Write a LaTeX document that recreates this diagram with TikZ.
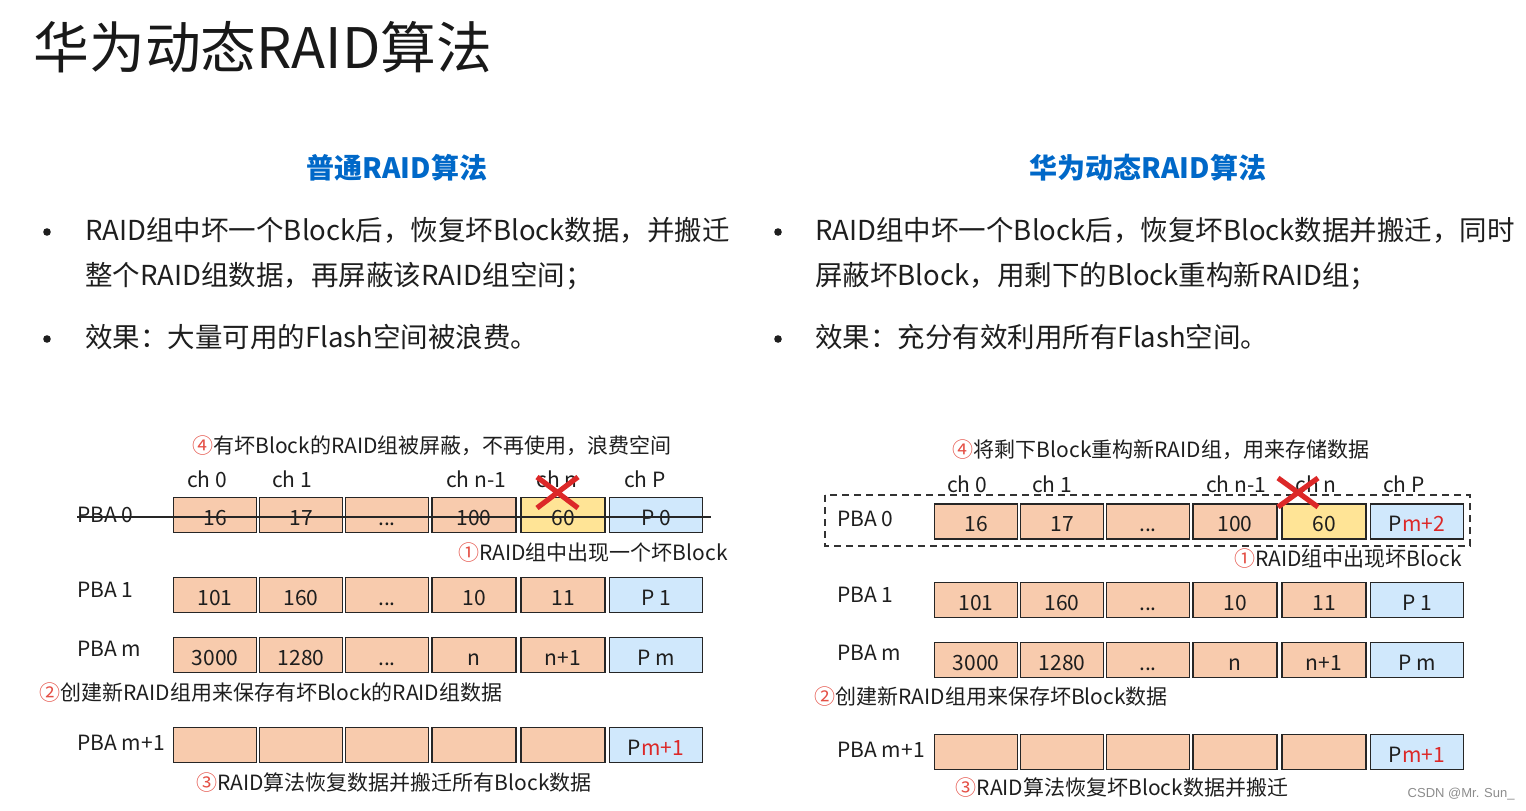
\documentclass[tikz,border=0pt]{standalone}
\usepackage{fontspec}
\setmainfont{Noto Sans CJK SC}
\newfontfamily\wmfont{Liberation Sans}
\usetikzlibrary{calc}
\definecolor{orangefill}{RGB}{248,203,173}
\definecolor{yellowfill}{RGB}{255,228,150}
\definecolor{bluefill}{RGB}{208,232,252}
\definecolor{titleblue}{RGB}{0,104,200}
\definecolor{pred}{RGB}{220,40,40}
\definecolor{circred}{RGB}{228,80,70}
\definecolor{txt}{RGB}{30,30,30}
\newcommand\cn[1]{\textcolor{circred}{#1}}
\newcommand\dotsx{...}
\newcommand\mkrow[4]{%
  \foreach \txt/\sty [count=\i] in {#4} {
    \pgfmathsetmacro\cx{{215,301,387,474,563,656}[\i-1]+#2}
    \pgfmathsetmacro\cw{{41.5,41.5,41.5,42,42,46.5}[\i-1]}
    \node[\sty, minimum width=\cw pt] (#1-\i) at (\cx,#3) {\txt};
  }}
\begin{document}
\begin{tikzpicture}[x=0.5pt,y=-0.5pt,
  cell/.style={draw=black!85, line width=0.8pt, minimum height=17.5pt, inner sep=0pt,
    text height=10.2pt, text depth=0pt, font=\fontsize{10.5}{12}\selectfont, text=txt},
  blk/.style={cell, fill=orangefill},
  bad/.style={cell, fill=yellowfill},
  par/.style={cell, fill=bluefill},
  lbl/.style={font=\fontsize{10.5}{12}\selectfont, text=txt, inner sep=0pt},
  note/.style={font=\fontsize{10.5}{12}\selectfont, text=txt, inner sep=0pt},
  body/.style={font=\fontsize{13.75}{16}\selectfont, text=txt, inner sep=0pt, anchor=west},
  bul/.style={circle, fill=txt, minimum size=3.8pt, inner sep=0pt},
  sub/.style={font=\fontsize{14}{16}\selectfont\bfseries, text=titleblue, inner sep=0pt},
  xmark/.style={draw=pred, line width=2.6pt},
  strike/.style={draw=black!85, line width=0.7pt},
  grp/.style={draw=black!80, line width=0.8pt, dash pattern=on 3.5pt off 2.5pt},
]
\useasboundingbox (0,0) rectangle (1526,810);

% title and headings
\node[anchor=west, inner sep=0pt, font=\fontsize{27.9}{30}\selectfont, text=black!90] (title) at (33,47) {华为动态RAID算法};
\node[sub] (subL) at (397,168) {普通RAID算法};
\node[sub] (subR) at (1148,168) {华为动态RAID算法};

% left bullets
\node[bul] (b1) at (47,232) {};
\node[body] (t1a) at (85,230) {RAID组中坏一个Block后，恢复坏Block数据，并搬迁};
\node[body] (t1b) at (85,276) {整个RAID组数据，再屏蔽该RAID组空间；};
\node[bul] (b2) at (47,339) {};
\node[body] (t2) at (85,337) {效果：大量可用的Flash空间被浪费。};

% right bullets
\node[bul] (b3) at (778,232) {};
\node[body] (t3a) at (815,230) {RAID组中坏一个Block后，恢复坏Block数据并搬迁，同时};
\node[body] (t3b) at (815,276) {屏蔽坏Block，用剩下的Block重构新RAID组；};
\node[bul] (b4) at (778,339) {};
\node[body] (t4) at (815,337) {效果：充分有效利用所有Flash空间。};

% ---------------- left diagram ----------------
\node[note] (n4L) at (432,446) {\cn{④}有坏Block的RAID组被屏蔽，不再使用，浪费空间};
\node[lbl] (chL0) at (207,479) {ch 0};
\node[lbl] (chL1) at (292,479) {ch 1};
\node[lbl] (chL2) at (476,479) {ch n-1};
\node[lbl] (chL3) at (557,479) {ch n};
\node[lbl] (chL4) at (645,479) {ch P};

\node[lbl, anchor=west] (pL0) at (77,515) {PBA 0};
\mkrow{L0}{0}{515}{16/blk, 17/blk, \dotsx/blk, 100/blk, 60/bad, P 0/par}
\node[lbl, anchor=west] (pL1) at (77,590) {PBA 1};
\mkrow{L1}{0}{595}{101/blk, 160/blk, \dotsx/blk, 10/blk, 11/blk, P 1/par}
\node[lbl, anchor=west] (pLm) at (77,649) {PBA m};
\mkrow{Lm}{0}{655}{3000/blk, 1280/blk, \dotsx/blk, n/blk, n+1/blk, P m/par}
\node[lbl, anchor=west] (pLp) at (77,743) {PBA m+1};
\mkrow{Lp}{0}{745}{{}/blk, {}/blk, {}/blk, {}/blk, {}/blk, {P\textcolor{pred}{m+1}}/par}

\draw[strike] ($(pL0.west)+(0,2)$) -- ($(L0-6.east)+(8,2)$);
\coordinate (xL1) at (537,477); \coordinate (xL2) at (578,508);
\coordinate (xL3) at (578,477); \coordinate (xL4) at (537,508);
\draw[xmark] (xL1) -- (xL2) (xL3) -- (xL4);

\node[note, anchor=east] (n1L) at (728,553) {\cn{①}RAID组中出现一个坏Block};
\node[note, anchor=west] (n2L) at (39,693) {\cn{②}创建新RAID组用来保存有坏Block的RAID组数据};
\node[note] (n3L) at (394,783) {\cn{③}RAID算法恢复数据并搬迁所有Block数据};

% ---------------- right diagram ----------------
\node[note] (n4R) at (1161,450) {\cn{④}将剩下Block重构新RAID组，用来存储数据};
\node[lbl] (chR0) at (967,484) {ch 0};
\node[lbl] (chR1) at (1052,484) {ch 1};
\node[lbl] (chR2) at (1236,484) {ch n-1};
\node[lbl] (chR3) at (1316,484) {ch n};
\node[lbl] (chR4) at (1404,484) {ch P};

\draw[grp] (825,495) rectangle (1470,546);
\node[lbl, anchor=west] (pR0) at (837,519) {PBA 0};
\mkrow{R0}{761}{521.5}{16/blk, 17/blk, \dotsx/blk, 100/blk, 60/bad, {P\textcolor{pred}{m+2}}/par}
\node[lbl, anchor=west] (pR1) at (837,595) {PBA 1};
\mkrow{R1}{761}{600}{101/blk, 160/blk, \dotsx/blk, 10/blk, 11/blk, P 1/par}
\node[lbl, anchor=west] (pRm) at (837,653) {PBA m};
\mkrow{Rm}{761}{660}{3000/blk, 1280/blk, \dotsx/blk, n/blk, n+1/blk, P m/par}
\node[lbl, anchor=west] (pRp) at (837,750) {PBA m+1};
\mkrow{Rp}{761}{752}{{}/blk, {}/blk, {}/blk, {}/blk, {}/blk, {P\textcolor{pred}{m+1}}/par}

\coordinate (xR1) at (1278,478); \coordinate (xR2) at (1318,507);
\coordinate (xR3) at (1318,478); \coordinate (xR4) at (1278,507);
\draw[xmark] (xR1) -- (xR2) (xR3) -- (xR4);

\node[note, anchor=east] (n1R) at (1462,559) {\cn{①}RAID组中出现坏Block};
\node[note, anchor=west] (n2R) at (814,697) {\cn{②}创建新RAID组用来保存坏Block数据};
\node[note] (n3R) at (1122,788) {\cn{③}RAID算法恢复坏Block数据并搬迁};

\node[anchor=east, inner sep=0pt, font=\wmfont\fontsize{6.5}{8}\selectfont, text=black!45] (wm) at (1515,794) {CSDN @Mr. Sun\_};
\end{tikzpicture}
\end{document}
